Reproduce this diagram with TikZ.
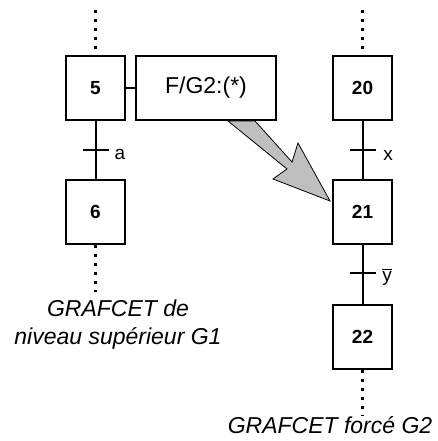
\documentclass[tikz,border=0pt]{standalone}
\usepackage{fontspec}
\setmainfont{Liberation Sans}
\begin{document}
\begin{tikzpicture}[x=1pt,y=1pt,
  stepbox/.style={draw,line width=2pt,fill=white,minimum width=59pt,minimum height=64pt,inner sep=0pt,font=\fontsize{19}{21}\selectfont\bfseries},
  actbox/.style={draw,line width=2pt,fill=white,minimum width=140pt,minimum height=64pt,inner sep=0pt,font=\fontsize{23}{26}\selectfont},
  linkline/.style={line width=2pt},
  tickline/.style={line width=2pt},
  dotline/.style={line width=2.2pt,dash pattern=on 3pt off 6pt},
  tlabel/.style={font=\fontsize{19}{22}\selectfont,inner sep=0pt},
  captext/.style={font=\fontsize{23}{28}\selectfont\itshape,align=center,inner sep=0pt},
  bigarrow/.style={draw=black,line width=0.8pt,fill=black!25}]
\useasboundingbox (0,0) rectangle (437,-441);
% big arrow (behind the action box)
\path[bigarrow] (228,-121) -- (255,-121) -- (292,-162) -- (298,-143) -- (330,-201) -- (273,-179) -- (287,-169) -- cycle;
% left GRAFCET
\node[stepbox] (s5) at (95.5,-88) {5};
\node[stepbox] (s6) at (95.5,-211.5) {6};
\node[actbox] (act) at (206,-88) {F/G2:(*)};
\coordinate (t5top) at (95.5,-10);
\coordinate (s6bot) at (95.5,-292);
\draw[dotline] (t5top) -- (s5.north);
\draw[linkline] (s5.south) -- (s6.north);
\draw[linkline] (s5.east) -- (act.west);
\coordinate (ta) at (95.5,-150);
\draw[tickline] ([xshift=-13pt]ta) -- ([xshift=13pt]ta);
\node[tlabel] (la) at (120,-154) {a};
\draw[dotline] (s6.south) -- (s6bot);
\node[captext] (cap1) at (118,-325) {GRAFCET de\\niveau supérieur G1};
% right GRAFCET
\node[stepbox] (s20) at (362.5,-88) {20};
\node[stepbox] (s21) at (362.5,-212) {21};
\node[stepbox] (s22) at (362.5,-336.5) {22};
\coordinate (t20top) at (362.5,-10);
\coordinate (s22bot) at (362.5,-415);
\draw[dotline] (t20top) -- (s20.north);
\draw[linkline] (s20.south) -- (s21.north);
\draw[linkline] (s21.south) -- (s22.north);
\coordinate (tx) at (362.5,-150);
\draw[tickline] ([xshift=-13pt]tx) -- ([xshift=13pt]tx);
\node[tlabel] (lx) at (388,-155) {x};
\coordinate (ty) at (362.5,-273);
\draw[tickline] ([xshift=-13pt]ty) -- ([xshift=13pt]ty);
\node[tlabel] (ly) at (387,-277) {$\overline{\mbox{y}}$};
\draw[dotline] (s22.south) -- (s22bot);
\node[captext] (cap2) at (330,-425) {GRAFCET forcé G2};
\end{tikzpicture}
\end{document}
